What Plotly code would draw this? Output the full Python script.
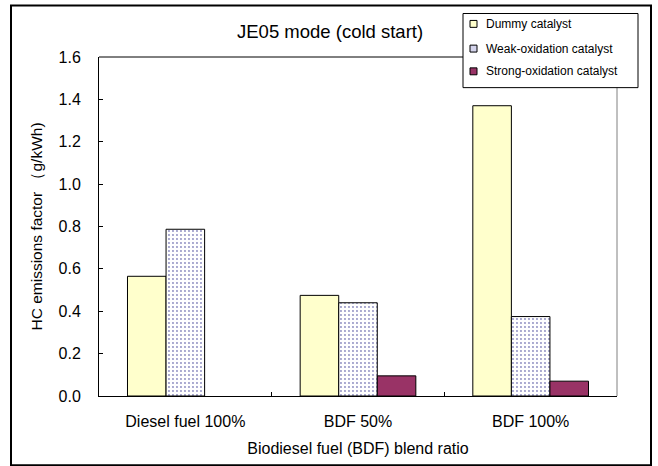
import plotly.graph_objects as go

categories = ["Diesel fuel 100%", "BDF 50%", "BDF 100%"]
dummy = [0.565, 0.475, 1.37]
weak = [0.787, 0.44, 0.375]
strong = [None, 0.095, 0.07]
series_names = ["Dummy catalyst", "Weak-oxidation catalyst", "Strong-oxidation catalyst"]
y_ticks = [0.0, 0.2, 0.4, 0.6, 0.8, 1.0, 1.2, 1.4, 1.6]

W, H = 658, 466
L, R, T, B = 99, 617, 57, 400

def px(x):
    return (x - L) / (R - L)

def py(y):
    return (B - y) / (B - T)

FONT = "Liberation Sans, Arial, sans-serif"

fig = go.Figure()
fig.add_trace(go.Bar(x=categories, y=dummy, name=series_names[0],
                     marker=dict(color="#FFFFCC", line=dict(color="black", width=1))))
fig.add_trace(go.Bar(x=categories, y=weak, name=series_names[1],
                     marker=dict(color="white", line=dict(color="black", width=1),
                                 pattern=dict(shape=".", fgcolor="#1a1a80", bgcolor="white",
                                              size=4, solidity=0.18))))
fig.add_trace(go.Bar(x=categories, y=strong, name=series_names[2],
                     marker=dict(color="#993366", line=dict(color="black", width=1))))

shapes = []
# outer border
shapes.append(dict(type="rect", xref="paper", yref="paper", x0=px(11), x1=px(651),
                   y0=py(5), y1=py(470), line=dict(color="black", width=2), layer="above"))
# plot area top and right edges
shapes.append(dict(type="line", xref="paper", yref="paper", x0=0, x1=1, y0=1, y1=1,
                   line=dict(color="black", width=1)))
shapes.append(dict(type="line", xref="paper", yref="paper", x0=1, x1=1, y0=0, y1=1,
                   line=dict(color="#808080", width=1)))
# legend box
shapes.append(dict(type="rect", xref="paper", yref="paper", x0=px(463), x1=px(638),
                   y0=py(88), y1=py(13), line=dict(color="black", width=1),
                   fillcolor="white", layer="above"))

swatch_colors = ["#FFFFCC", "#D4D4EC", "#993366"]
item_y = [23.5, 48.5, 71.5]
annotations = []
for name, col, yy in zip(series_names, swatch_colors, item_y):
    shapes.append(dict(type="rect", xref="paper", yref="paper", x0=px(470), x1=px(477),
                       y0=py(yy + 3.5), y1=py(yy - 3.5), line=dict(color="black", width=1),
                       fillcolor=col, layer="above"))
    annotations.append(dict(text=name, xref="paper", yref="paper", x=px(484), y=py(yy),
                            xanchor="left", yanchor="middle", showarrow=False,
                            font=dict(family=FONT, size=12, color="black")))

annotations.append(dict(text="JE05 mode (cold start)", xref="paper", yref="paper",
                        x=px(330), y=py(31), xanchor="center", yanchor="middle",
                        showarrow=False, font=dict(family=FONT, size=18.5, color="black")))

fig.update_layout(
    width=W, height=H,
    margin=dict(l=L, r=W - R, t=T, b=H - B, pad=0),
    paper_bgcolor="white", plot_bgcolor="white",
    barmode="group", bargap=0.33, bargroupgap=0,
    showlegend=False,
    font=dict(family=FONT, size=15, color="black"),
    shapes=shapes, annotations=annotations,
)
fig.update_xaxes(type="category", showline=True, linecolor="black", linewidth=1,
                 ticks="inside", ticklen=4, tickcolor="black", tickson="boundaries",
                 showgrid=False, tickfont=dict(size=16), ticklabelstandoff=11,
                 title=dict(text="Biodiesel fuel (BDF) blend ratio", font=dict(size=16), standoff=13))
fig.update_yaxes(range=[0, 1.6], tickvals=y_ticks, tickformat=".1f", showline=True,
                 linecolor="black", linewidth=1, ticks="inside", ticklen=4, tickcolor="black",
                 showgrid=False, zeroline=False, tickfont=dict(size=16), ticklabelstandoff=14,
                 title=dict(text="HC emissions factor （g/kWh)", font=dict(size=15.5), standoff=12))

fig.write_html("out.html")
